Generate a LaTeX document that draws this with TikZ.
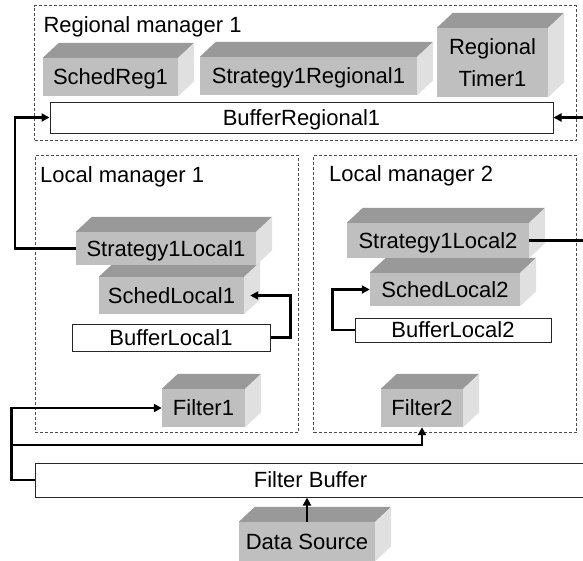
\documentclass[tikz,border=0pt]{standalone}
\usepackage{fontspec}
\setmainfont{Liberation Sans}
\usetikzlibrary{arrows.meta,calc}
\definecolor{frontgray}{RGB}{191,191,191}
\definecolor{topgray}{RGB}{153,153,153}
\definecolor{sidegray}{RGB}{224,224,224}
\newcommand\drawcube[6]{%
  \node[cubefront, minimum width=#4pt, minimum height=#5pt] (#1) at (#2,#3) {#6};
  \fill[topgray] (#1.north west) -- ++(16,-15) -- ([shift={(16,-15)}]#1.north east) -- (#1.north east) -- cycle;
  \fill[sidegray] (#1.north east) -- ++(16,-15) -- ([shift={(16,-15)}]#1.south east) -- (#1.south east) -- cycle;
}
\tikzset{
  txt/.style={font=\fontsize{22}{31.5}\selectfont},
  cubefront/.style={txt, fill=frontgray, inner sep=0pt, text height=15.75pt, text depth=0pt, align=center},
  buf/.style={txt, draw=black!85, line width=1pt, fill=white, inner sep=0pt, text height=15.75pt, text depth=0pt},
  mgr/.style={draw=black!70, line width=0.8pt, dash pattern=on 3pt off 2pt, inner sep=0pt},
  lbl/.style={txt, anchor=base west, inner sep=0pt},
  conn/.style={line width=2.5pt, -{Triangle[length=8pt,width=8pt]}}
}
\begin{document}
\begin{tikzpicture}[x=1pt,y=-1pt]
\useasboundingbox (0,0) rectangle (583,560);
\clip (0,0) rectangle (583,560);
% manager frames
\node[mgr, minimum width=541.5pt, minimum height=134.5pt] (regmgr) at (305.25,72.75) {};
\node[mgr, minimum width=263pt, minimum height=277.5pt] (locmgr1) at (166.5,293.75) {};
\node[mgr, minimum width=263pt, minimum height=277.5pt] (locmgr2) at (445,293.75) {};
\node[lbl] (regmgrlbl) at (43.3,32.3) {Regional manager 1};
\node[lbl] (locmgr1lbl) at (40,182.3) {Local manager 1};
\node[lbl] (locmgr2lbl) at (329,181.7) {Local manager 2};
% regional manager
\drawcube{SchedReg1}{110.5}{77}{135}{38}{SchedReg1}
\drawcube{Strategy1Regional1}{308.5}{76}{217}{38}{Strategy1Regional1}
\node[cubefront, text height=47.25pt, minimum width=111pt, minimum height=69pt] (RegionalTimer1) at (492.5,62.5) {Regional\\Timer1};
\fill[topgray] (RegionalTimer1.north west) -- ++(16,-15) -- ([shift={(16,-15)}]RegionalTimer1.north east) -- (RegionalTimer1.north east) -- cycle;
\fill[sidegray] (RegionalTimer1.north east) -- ++(16,-15) -- ([shift={(16,-15)}]RegionalTimer1.south east) -- (RegionalTimer1.south east) -- cycle;
\node[buf, minimum width=503pt, minimum height=31pt] (BufferRegional1) at (301.5,117.5) {BufferRegional1};
% local manager 1
\drawcube{SchedLocal1}{171.5}{295.5}{145}{37}{SchedLocal1}
\drawcube{Strategy1Local1}{166}{248.5}{180}{33}{Strategy1Local1}
\node[buf, minimum width=198pt, minimum height=27pt] (BufferLocal1) at (171,337.5) {BufferLocal1};
\drawcube{Filter1}{203.5}{408}{83}{38}{Filter1}
% local manager 2
\drawcube{SchedLocal2}{445}{289.5}{150}{33}{SchedLocal2}
\drawcube{Strategy1Local2}{438}{240.5}{182}{35}{Strategy1Local2}
\node[buf, minimum width=196pt, minimum height=24pt] (BufferLocal2) at (453,330) {BufferLocal2};
\drawcube{Filter2}{422}{408}{82}{38}{Filter2}
% bottom
\node[buf, minimum width=551pt, minimum height=34pt] (FilterBuffer) at (310.5,480) {Filter Buffer};
\drawcube{DataSource}{307}{541.5}{136}{39}{Data Source}
% connectors
\draw[conn] (Strategy1Local1.west) -- ++(-61,0) |- (BufferRegional1.west);
\draw[conn] (Strategy1Local2.east) -- ++(80,0) |- (BufferRegional1.east);
\draw[conn] (BufferLocal1.east) -- ++(20,0) |- ([xshift=6pt]SchedLocal1.east);
\draw[conn] (BufferLocal2.west) -- ++(-22,0) |- (SchedLocal2.west);
\draw[conn] (FilterBuffer.west) -- ++(-23,0) |- (Filter1.west);
\coordinate (split) at (12,445);
\draw[conn] (split) -| (Filter2.south);
\draw[conn] (DataSource.north) -- (DataSource.north |- FilterBuffer.south);
\end{tikzpicture}
\end{document}
